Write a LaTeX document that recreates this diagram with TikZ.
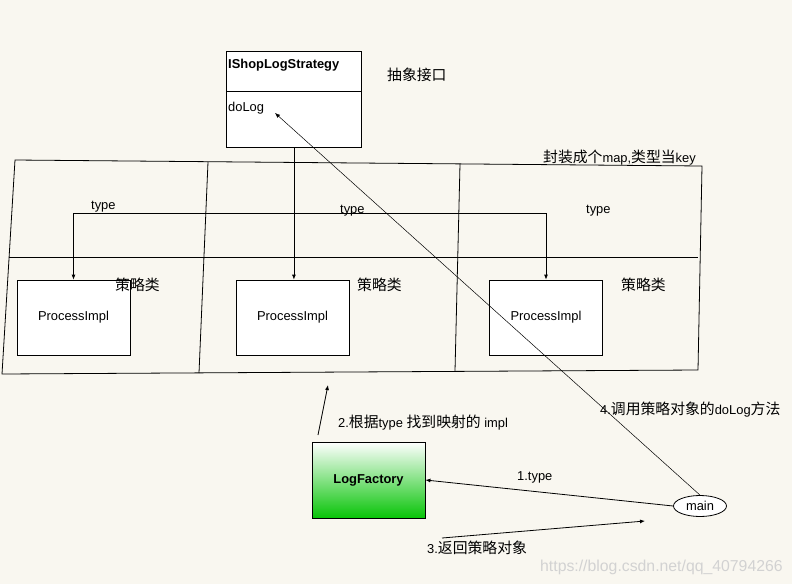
\documentclass[tikz,border=0pt]{standalone}
\usepackage{fontspec}
\setmainfont{Liberation Sans}
\newfontfamily\cjk{Noto Sans CJK SC}[Scale=1.15]
\usetikzlibrary{arrows.meta,positioning,shapes.geometric}
\definecolor{paper}{RGB}{249,247,240}
\definecolor{lfgreen}{RGB}{8,196,8}
\newcommand{\basefont}{\fontsize{12.9}{15}\selectfont}
\newcommand{\zh}[1]{{\cjk #1}}

\begin{document}
\begin{tikzpicture}[
    x=1pt, y=-1pt,
    >={Latex[length=5pt,width=4pt]},
    font=\basefont,
    implbox/.style={
        rectangle, draw, fill=white, line width=0.8pt,
        minimum width=113pt, minimum height=75pt, inner sep=0pt
    },
    frame/.style={line width=0.8pt},
    conn/.style={->, line width=0.8pt},
    callconn/.style={->, line width=0.5pt},
    lbl/.style={inner sep=0pt, anchor=base west}
]
    \useasboundingbox[fill=paper] (0,0) rectangle (792,584);

    % Map frame
    \draw[frame] (15,160) -- (702,166) -- (698,370) -- (2,374) -- cycle;
    \draw[frame] (208,162) -- (199,373);
    \draw[frame] (460,164) -- (455,371);
    \draw[frame] (9,257) -- (698,257);
    \node[lbl] (maplbl) at (543,162) {\zh{封装成个}map,\zh{类型当}key};

    % Interface
    \node[implbox, minimum width=135pt, minimum height=96pt, anchor=north west] (iface) at (226,51) {};
    \coordinate (divL) at (226,91);
    \coordinate (divR) at (361,91);
    \draw[frame] (divL) -- (divR);
    \node[lbl, font=\basefont\bfseries] (ifname) at (228,68) {IShopLogStrategy};
    \node[lbl] (dolog) at (228,111) {doLog};
    \node[lbl] (abstr) at (387,80) {\zh{抽象接口}};

    % Strategy implementations
    \node[implbox] (impl1) at (73.5,317.5) {ProcessImpl};
    \node[implbox] (impl2) at (292.5,317.5) {ProcessImpl};
    \node[implbox] (impl3) at (546,317.5) {ProcessImpl};
    \node[lbl] (cls1) at (115,290) {\zh{策略类}};
    \node[lbl] (cls2) at (357,290) {\zh{策略类}};
    \node[lbl] (cls3) at (621,290) {\zh{策略类}};

    % Type keys
    \coordinate (bus) at (0,213);
    \draw[<->, line width=0.8pt] (impl1.north) |- (impl3.north |- bus) -- (impl3.north);
    \draw[conn] (iface.south) -- (iface.south |- impl2.north);
    \node[lbl] (type1) at (91,209) {type};
    \node[lbl] (type2) at (340,213) {type};
    \node[lbl] (type3) at (586,213) {type};

    % Factory and client
    \node[rectangle, draw, line width=0.8pt, top color=white, bottom color=lfgreen,
          minimum width=113pt, minimum height=76pt, font=\basefont\bfseries] (lf) at (368.5,480) {LogFactory};
    \node[ellipse, draw, fill=white, line width=0.8pt, minimum width=53pt, minimum height=21pt,
          inner sep=0pt] (main) at (700,506) {main};

    % Calls
    \coordinate (findA) at (318,435);
    \coordinate (findB) at (328,385);
    \coordinate (retA) at (442,538);
    \coordinate (retB) at (645,521);
    \coordinate (dologtip) at (275,113);
    \draw[conn] (main.west) -- (lf.east);
    \draw[conn] (findA) -- (findB);
    \draw[conn] (retA) -- (retB);
    \draw[callconn] (main.north) -- (dologtip);

    \node[lbl] (step1) at (517,480) {1.type};
    \node[lbl] (step2) at (338,427) {2.\zh{根据}type \zh{找到映射的} impl};
    \node[lbl] (step3) at (427,553) {3.\zh{返回策略对象}};
    \node[lbl] (step4) at (600,414) {4.\zh{调用策略对象的}doLog\zh{方法}};

    \node[lbl, font=\fontsize{15.8}{18}\selectfont, text=gray!35] (mark) at (540,571) {https://blog.csdn.net/qq\_40794266};
\end{tikzpicture}
\end{document}
